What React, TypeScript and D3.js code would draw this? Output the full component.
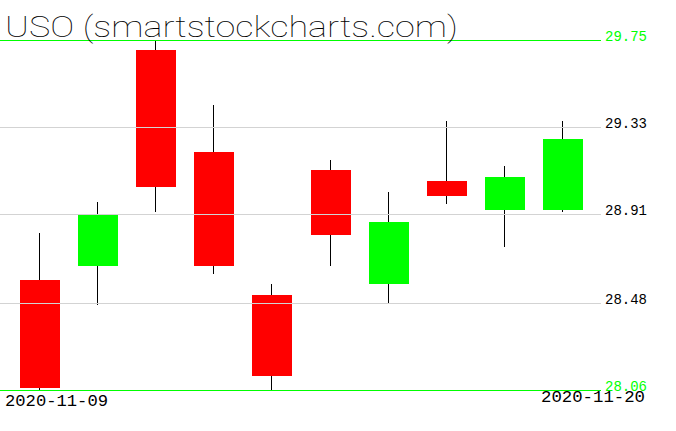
import React from "react";
import * as d3 from "d3";

const dates = ["2020-11-09","2020-11-10","2020-11-11","2020-11-12","2020-11-13","2020-11-16","2020-11-17","2020-11-18","2020-11-19","2020-11-20"];
const opens = [28.59, 28.655, 29.702, 29.209, 28.519, 29.122, 28.569, 29.069, 28.926, 28.926];
const highs = [28.818, 28.968, 29.75, 29.435, 28.572, 29.171, 29.016, 29.359, 29.142, 29.359];
const lows = [28.06, 28.467, 28.916, 28.617, 28.06, 28.655, 28.479, 28.955, 28.747, 28.916];
const closes = [28.066, 28.91, 29.037, 28.655, 28.124, 28.805, 28.871, 28.998, 29.088, 29.272];
const yTicks = [28.06, 28.48, 28.91, 29.33, 29.75];
const tickLabels = ["28.06", "28.48", "28.91", "29.33", "29.75"];
const title = "USO (smartstockcharts.com)";

export default function App() {
  const W = 676, H = 431;
  const x = d3.scaleBand<string>().domain(dates).range([10, 591]).padding(0);
  const y = d3.scaleLinear().domain([28.06, 29.75]).range([389.5, 40]);
  const bodyW = 40;
  const mono = "'Liberation Mono', monospace";
  const py = (v: number) => Math.round(y(v)) + 0.5;
  return (
    <svg width={W} height={H} style={{ position: "absolute", left: 0, top: 0, background: "#fff" }}>
      <rect x={0} y={0} width={W} height={H} fill="#fff" />
      {dates.map((d, i) => {
        const cx = Math.round((x(d) as number) + x.bandwidth() / 2) + 0.5;
        const up = closes[i] >= opens[i];
        const top = Math.round(y(Math.max(opens[i], closes[i])));
        const bot = Math.round(y(Math.min(opens[i], closes[i])));
        return (
          <g key={d}>
            <line x1={cx} x2={cx} y1={Math.round(y(highs[i]))} y2={Math.round(y(lows[i]))} stroke="#000" strokeWidth={1} />
            <rect x={Math.round(cx - bodyW / 2)} y={top} width={bodyW} height={Math.max(1, bot - top)} fill={up ? "#00ff00" : "#ff0000"} />
          </g>
        );
      })}
      {yTicks.map((t, i) => {
        const edge = i === 0 || i === yTicks.length - 1;
        const col = edge ? "#00ff00" : "#d3d3d3";
        return (
          <g key={t}>
            <line x1={0} x2={601} y1={py(t)} y2={py(t)} stroke={col} strokeWidth={1} />
            <text x={605} y={Math.round(y(t)) + 1} fontFamily={mono} fontSize={15} textLength={42} lengthAdjust="spacingAndGlyphs" fill={edge ? "#00ff00" : "#000"}>{tickLabels[i]}</text>
          </g>
        );
      })}
      <text x={5} y={406} fontFamily={mono} fontSize={16} textLength={103} lengthAdjust="spacingAndGlyphs" fill="#000">{dates[0]}</text>
      <text x={541} y={402} fontFamily={mono} fontSize={16} textLength={104} lengthAdjust="spacingAndGlyphs" fill="#000">{dates[dates.length - 1]}</text>
      <text x={5} y={37} fontFamily="Roboto, Inter, 'DejaVu Sans', sans-serif" fontWeight={100} fontSize={29} textLength={453} lengthAdjust="spacingAndGlyphs" fill="#000">{title}</text>
    </svg>
  );
}
